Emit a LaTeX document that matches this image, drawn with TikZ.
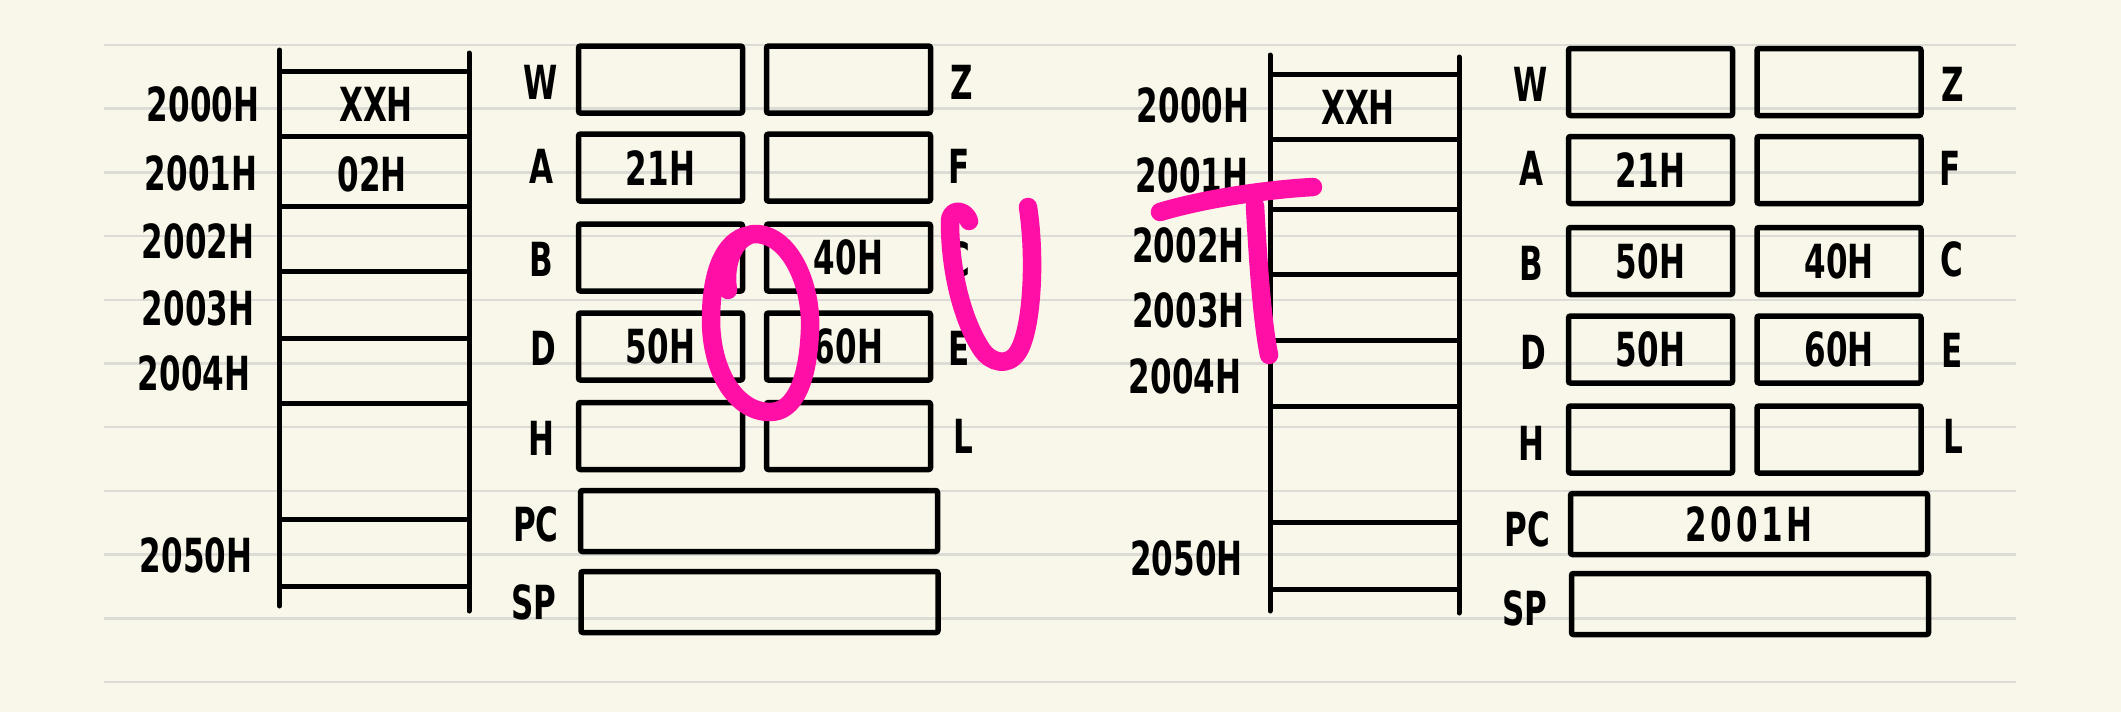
\documentclass[tikz,border=0pt]{standalone}
\usepackage{fontspec}
\setmainfont{DejaVu Sans}[FakeStretch=0.66]
\definecolor{paper}{HTML}{F9F7EA}
\definecolor{ruledgray}{HTML}{DCDBD5}
\definecolor{hotpink}{HTML}{FF0FA5}
\tikzset{
  ruleline/.style={draw=ruledgray, line width=2.5pt},
  ink/.style={draw=black, line width=5pt, line cap=round},
  hand/.style={font=\bfseries\fontsize{47}{47}\selectfont, inner sep=0pt},
  regbox/.style={hand, draw=black, line width=5.5pt, rounded corners=2pt, minimum width=164pt, minimum height=67pt},
  widebox/.style={regbox, minimum width=357pt, minimum height=61pt},
  pinkstroke/.style={draw=hotpink, line width=18.5pt, line cap=round, line join=round},
}
\begin{document}
\begin{tikzpicture}[x=1pt,y=-1pt]
\fill[paper] (0,0) rectangle (2121,712);
\useasboundingbox (0,0) rectangle (2121,712);
% ruled paper
\foreach \k in {0,...,10} \draw[ruleline] (104,{45+63.7*\k}) -- (2016,{45+63.7*\k});

% ---------- left panel: memory ----------
\draw[ink] (279.5,50) -- (279.5,606);
\draw[ink] (469,53) -- (469,611);
\foreach \y in {71.7,136.7,206.8,271.8,338.6,403.6,519.5,586.4} \draw[ink] (281,\y) -- (466,\y);
\node[hand] (la0) at (203,104) {2000H};
\node[hand] (la1) at (201,173) {2001H};
\node[hand] (la2) at (198,241) {2002H};
\node[hand] (la3) at (198,308) {2003H};
\node[hand] (la4) at (194,373) {2004H};
\node[hand] (la50) at (196,555) {2050H};
\node[hand] (lm0) at (376,104) {XXH};
\node[hand] (lm1) at (372,174) {02H};

% left panel: registers
\node[regbox] (lW) at (660.5,79.5) {};
\node[regbox] (lZ) at (848.5,79.5) {};
\node[regbox] (lA) at (660.5,167.6) {21H};
\node[regbox] (lF) at (848.5,167.6) {};
\node[regbox] (lB) at (660.5,257.5) {};
\node[regbox] (lC) at (848.5,257.5) {\raisebox{-5pt}{40H}};
\node[regbox] (lD) at (660.5,346.5) {50H};
\node[regbox] (lE) at (848.5,346.5) {60H};
\node[regbox] (lH) at (660.5,436) {};
\node[regbox] (lL) at (848.5,436) {};
\node[widebox] (lPC) at (759,521) {};
\node[widebox] (lSP) at (759.5,602) {};
\node[hand] (lWl) at (541,82) {W};
\node[hand] (lAl) at (541,166) {A};
\node[hand] (lBl) at (541,259) {B};
\node[hand] (lDl) at (543,348) {D};
\node[hand] (lHl) at (541,438) {H};
\node[hand] (lPCl) at (536,524) {PC};
\node[hand] (lSPl) at (534,602) {SP};
\node[hand] (lZl) at (962,82) {Z};
\node[hand] (lFl) at (959,166) {F};
\node[hand] (lCl) at (959,259) {C};
\node[hand] (lEl) at (959,348) {E};
\node[hand] (lLl) at (963,436) {L};

% ---------- right panel: memory ----------
\draw[ink] (1270,55) -- (1270,611);
\draw[ink] (1459,57) -- (1459,613);
\foreach \y in {74,139.4,209,274,340.6,406.5,522,589.5} \draw[ink] (1272,\y) -- (1457,\y);
\node[hand] (ra0) at (1193,105) {2000H};
\node[hand] (ra1) at (1192,175) {2001H};
\node[hand] (ra2) at (1188.5,245) {2002H};
\node[hand] (ra3) at (1188.5,310) {2003H};
\node[hand] (ra4) at (1185,376) {2004H};
\node[hand] (ra50) at (1186.5,558) {2050H};
\node[hand] (rm0) at (1358,107) {XXH};

% right panel: registers
\node[regbox] (rW) at (1650.5,82) {};
\node[regbox] (rZ) at (1839,82) {};
\node[regbox] (rA) at (1650.5,170) {21H};
\node[regbox] (rF) at (1839,170) {};
\node[regbox] (rB) at (1650.5,261) {50H};
\node[regbox] (rC) at (1839,261) {40H};
\node[regbox] (rD) at (1650.5,349.5) {50H};
\node[regbox] (rE) at (1839,349.5) {60H};
\node[regbox] (rH) at (1650.5,439.5) {};
\node[regbox] (rL) at (1839,439.5) {};
\node[widebox] (rPC) at (1749,524) {\addfontfeature{LetterSpace=8}2001H};
\node[widebox] (rSP) at (1750,604) {};
\node[hand] (rWl) at (1531,84) {W};
\node[hand] (rAl) at (1531,168) {A};
\node[hand] (rBl) at (1531,263) {B};
\node[hand] (rDl) at (1533,352) {D};
\node[hand] (rHl) at (1531,443) {H};
\node[hand] (rPCl) at (1527,529) {PC};
\node[hand] (rSPl) at (1525,608) {SP};
\node[hand] (rZl) at (1953,84) {Z};
\node[hand] (rFl) at (1950,168) {F};
\node[hand] (rCl) at (1952,259) {C};
\node[hand] (rEl) at (1952,350) {E};
\node[hand] (rLl) at (1953,436) {L};

% ---------- pink "OUT" ----------
% O
\draw[pinkstroke] (728,290) .. controls (725,272) and (729,252) .. (740,241)
  .. controls (746,236) and (750,234) .. (755,234)
  .. controls (790,234) and (812,285) .. (810,330)
  .. controls (808,380) and (795,412) .. (770,412)
  .. controls (735,412) and (711,370) .. (711,320)
  .. controls (711,280) and (720,245) .. (745,236);
% U
\draw[pinkstroke] (969,221) .. controls (966,210) and (950,207) .. (950,222)
  .. controls (950,270) and (962,320) .. (982,350)
  .. controls (990,362) and (1008,368) .. (1018,352)
  .. controls (1032,330) and (1036,260) .. (1028,207);
% T
\draw[pinkstroke] (1160,212) .. controls (1200,200) and (1260,190) .. (1313,187);
\draw[pinkstroke] (1255,206) .. controls (1258,260) and (1262,320) .. (1269,355);
\end{tikzpicture}
\end{document}
